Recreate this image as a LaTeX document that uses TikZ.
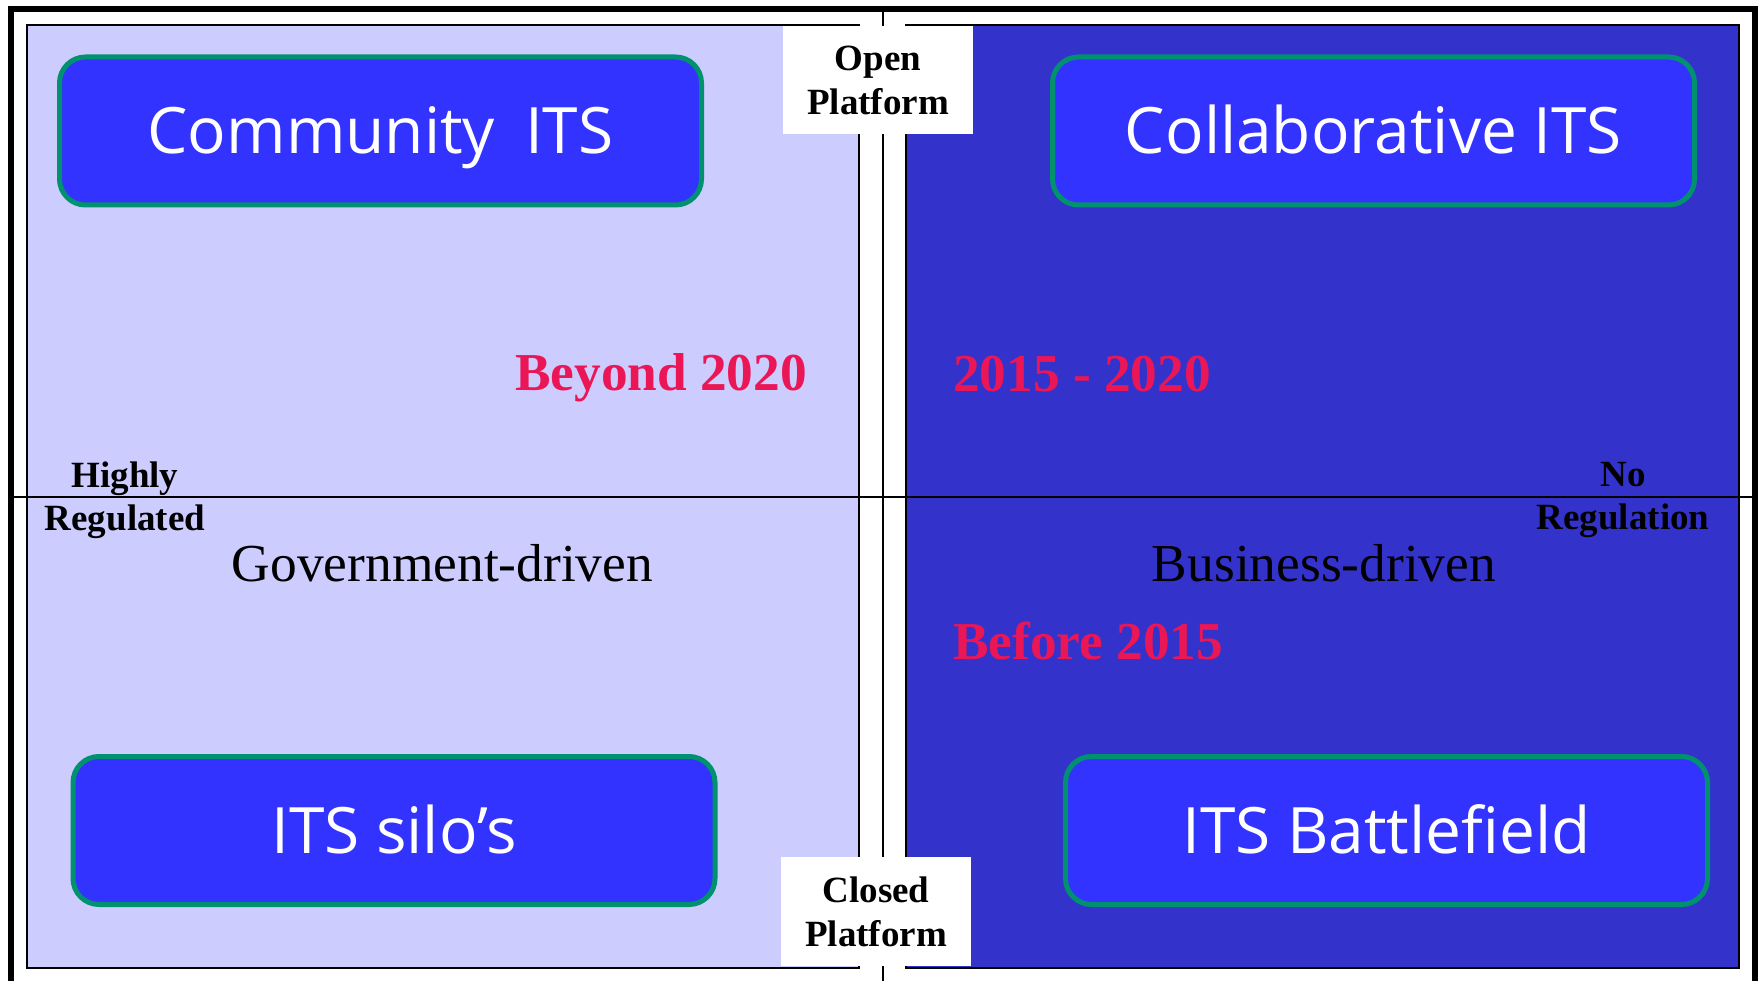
\documentclass[tikz,border=0pt]{standalone}
\usepackage{fontspec}
\setmainfont{Liberation Serif}
\newfontfamily\boxfont{Open Sans}
\definecolor{lav}{HTML}{CCCCFF}
\definecolor{darkpanel}{HTML}{3333CC}
\definecolor{boxblue}{HTML}{3333FF}
\definecolor{boxgreen}{HTML}{00916E}
\definecolor{datered}{HTML}{EB1656}
\tikzset{
  panel/.style={draw=black, line width=2pt},
  axisline/.style={draw=black, line width=2pt},
  itsbox/.style={draw=boxgreen, fill=boxblue, line width=5pt, rounded corners=26pt,
    minimum width=642pt, minimum height=148pt, inner sep=0pt,
    text height=46pt, text depth=0pt,
    text=white, font=\boxfont\fontsize{64}{76}\selectfont},
  platbox/.style={fill=white, inner sep=0pt, align=center,
    font=\bfseries\fontsize{37}{44}\selectfont},
  axislabel/.style={inner sep=0pt, align=center, font=\bfseries\fontsize{37}{43}\selectfont},
  datelabel/.style={inner sep=0pt, text=datered, font=\bfseries\fontsize{53.3}{60}\selectfont},
  drivelabel/.style={inner sep=0pt, font=\fontsize{53.4}{60}\selectfont}
}
\begin{document}
\begin{tikzpicture}[x=1pt,y=-1pt]
\useasboundingbox (0,0) rectangle (1758,981);
\clip (0,0) rectangle (1758,981);
\fill[white] (0,0) rectangle (1758,981);
% quadrant panels
\draw[panel, fill=lav] (27,25) rectangle (859,968);
\draw[panel, fill=darkpanel] (906,25) rectangle (1739,968);
% outer frame
\draw[line width=6pt] (11,9) rectangle (1755,1000);
% axes
\coordinate (hl) at (11,497);
\coordinate (hr) at (1755,497);
\coordinate (vt) at (883,9);
\coordinate (vb) at (883,981);
\draw[axisline] (hl) -- (hr);
\draw[axisline] (vt) -- (vb);
% platform labels
\node[platbox, minimum width=190pt, minimum height=108pt] (open) at (878,80.5) {Open\\Platform};
\node[platbox, minimum width=190pt, minimum height=109pt] (closed) at (876,911.5) {Closed\\Platform};
% regulation labels
\node[axislabel] (highly) at (125,500) {Highly\\Regulated};
\node[axislabel] (noreg) at (1623,500) {No\\Regulation};
% date labels
\node[datelabel, anchor=base west] (beyond) at (515,390) {Beyond 2020};
\node[datelabel, anchor=base west] (mid) at (953,391) {2015 - 2020};
\node[datelabel, anchor=base west] (before) at (953,659) {Before 2015};
% driven labels
\node[drivelabel, anchor=base] (gov) at (442.5,581) {Government-driven};
\node[drivelabel, anchor=base] (bus) at (1324,581) {Business-driven};
% ITS boxes
\node[itsbox] (community) at (380.5,131) {Community\hspace{30pt}ITS};
\node[itsbox] (collab) at (1373.5,131) {Collaborative ITS};
\node[itsbox] (silo) at (394,830.5) {ITS silo’s};
\node[itsbox] (battle) at (1386.5,830.5) {ITS Battlefield};
\end{tikzpicture}
\end{document}
